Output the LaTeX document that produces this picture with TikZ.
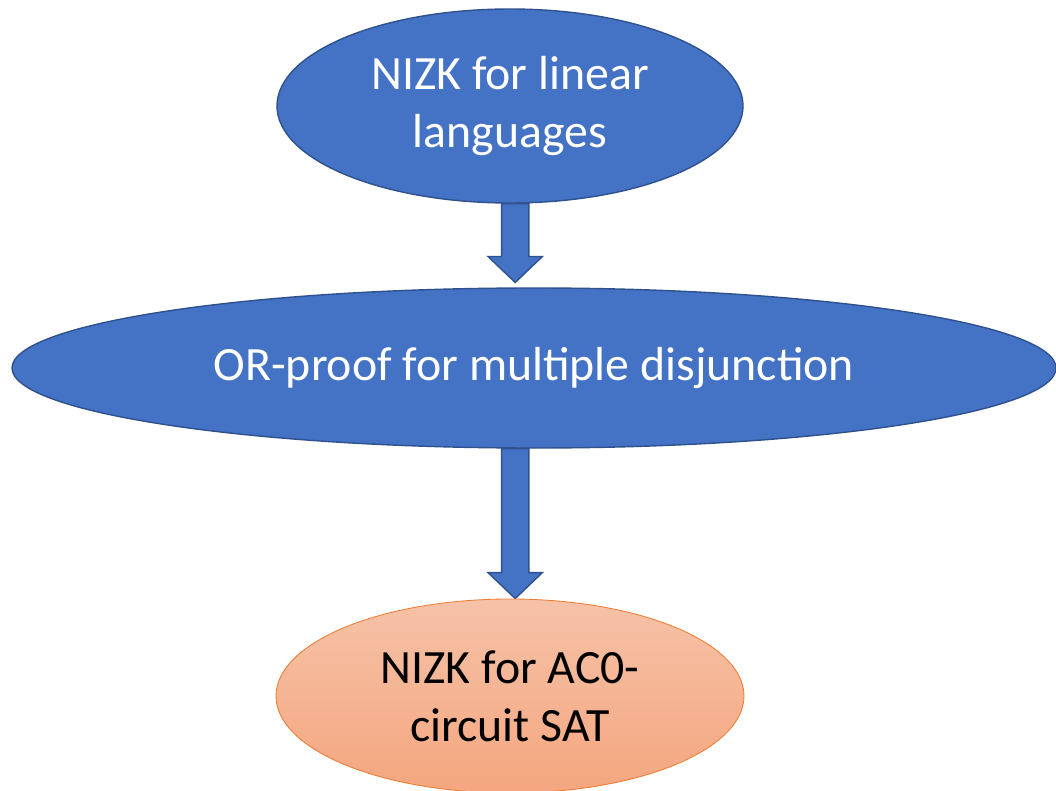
\documentclass[tikz,border=0pt]{standalone}
\usepackage{fontspec}
\setmainfont{Carlito}
\usepackage{tikz}
\usetikzlibrary{shapes,calc,backgrounds,positioning}
\definecolor{boxblue}{HTML}{4472C4}
\definecolor{lineblue}{HTML}{2F528F}
\definecolor{peachtop}{HTML}{F6C2A8}
\definecolor{peachbot}{HTML}{F4A67F}
\definecolor{lineorange}{HTML}{ED7D31}
\tikzset{
  flownode/.style = {ellipse, align=center, inner sep=0pt,
    font=\fontsize{34}{41}\selectfont},
  nd_blue/.style = {flownode, fill=boxblue, draw=lineblue, line width=1pt,
    text=white},% noeud bleu
  nd_orange/.style = {flownode, top color=peachtop, bottom color=peachbot,
    draw=lineorange, line width=0.6pt, text=black},% noeud orange
  fl_arrow/.style = {fill=boxblue, draw=lineblue, line width=1pt,
    line join=miter}% grosse fleche
}

\begin{document}
\begin{tikzpicture}
\useasboundingbox (0,0) rectangle (26.4,-19.775);

\node [nd_blue, minimum width=11.65cm, minimum height=4.85cm] (lin) at (12.75,-2.65)
  {NIZK for linear\\languages};
\node [nd_blue, minimum width=26.1cm, minimum height=4.0cm] (orp) at (13.35,-9.2)
  {OR-proof for multiple disjunction};
\node [nd_orange, minimum width=11.7cm, minimum height=4.85cm] (sat) at (12.75,-17.4)
  {NIZK for AC0-\\circuit SAT};

\coordinate (t1) at ([xshift=0.13cm,yshift=0.12cm]lin.south |- orp.north);
\coordinate (s1) at ([xshift=0.13cm]lin.south);
\coordinate (t2) at ([xshift=0.13cm]lin.south |- sat.north);
\coordinate (s2) at ([xshift=0.13cm]lin.south |- orp.south);

\begin{scope}[on background layer]
\draw[fl_arrow] ([xshift=-0.34cm]s1) -- ([xshift=-0.34cm,yshift=0.65cm]t1)
  -- ([xshift=-0.68cm,yshift=0.65cm]t1) -- (t1)
  -- ([xshift=0.68cm,yshift=0.65cm]t1) -- ([xshift=0.34cm,yshift=0.65cm]t1)
  -- ([xshift=0.34cm]s1) -- cycle;
\draw[fl_arrow] ([xshift=-0.34cm]s2) -- ([xshift=-0.34cm,yshift=0.65cm]t2)
  -- ([xshift=-0.68cm,yshift=0.65cm]t2) -- (t2)
  -- ([xshift=0.68cm,yshift=0.65cm]t2) -- ([xshift=0.34cm,yshift=0.65cm]t2)
  -- ([xshift=0.34cm]s2) -- cycle;
\end{scope}
\end{tikzpicture}
\end{document}
